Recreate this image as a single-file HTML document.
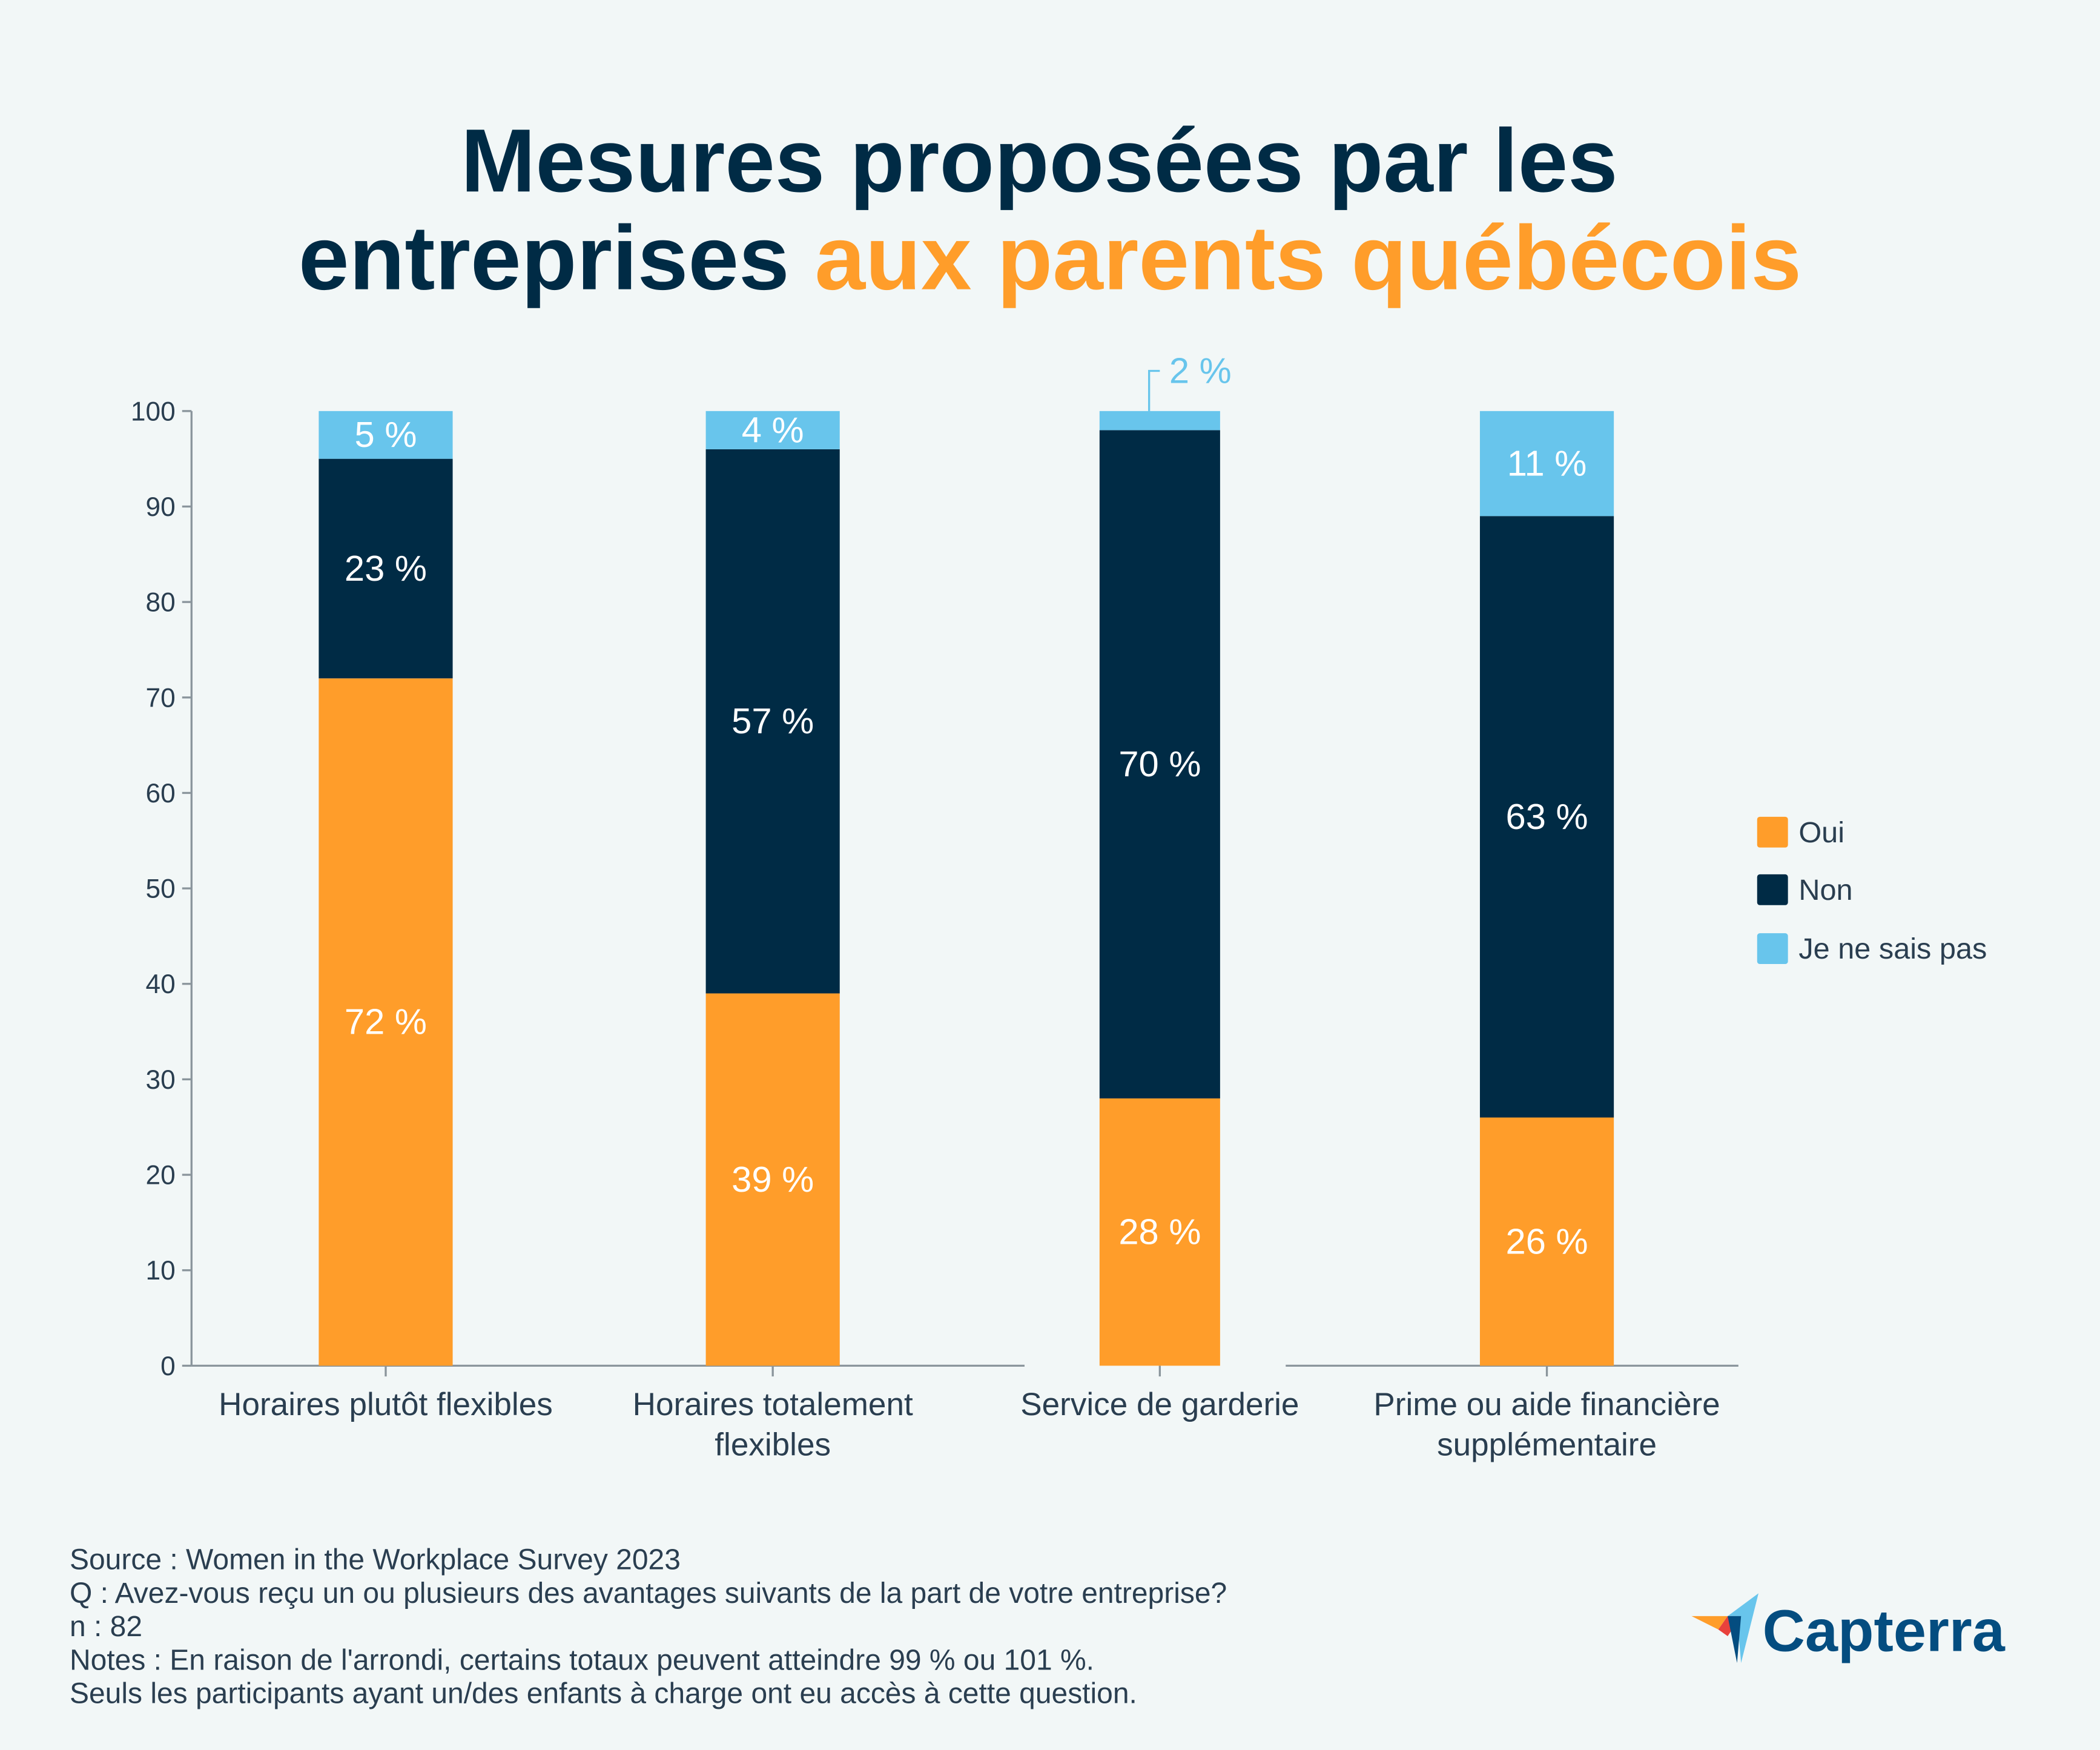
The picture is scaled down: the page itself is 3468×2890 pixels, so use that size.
<!DOCTYPE html>
<html><head><meta charset="utf-8">
<style>
html,body{margin:0;padding:0;background:#f2f7f7;}
svg{display:block;font-family:"Liberation Sans",sans-serif;}
</style></head>
<body>
<svg id="chart" width="3468" height="2890" viewBox="0 0 1568 1307" preserveAspectRatio="none" xmlns="http://www.w3.org/2000/svg">
<rect width="1568" height="1307" fill="#f2f7f7"/>
<text x="776" y="143" text-anchor="middle" font-size="67" font-weight="bold" fill="#002b45">Mesures proposées par les</text>
<text x="784" y="216" text-anchor="middle" font-size="68" font-weight="bold" fill="#002b45">entreprises <tspan fill="#ff9d2a">aux parents québécois</tspan></text>
<g id="axes"></g>
<g id="bars"></g>
<g id="legend">
  <rect x="1312" y="610" width="23" height="23" rx="2" fill="#ff9d2a"/>
  <text x="1343" y="629" font-size="22" fill="#2a3e50">Oui</text>
  <rect x="1312" y="653" width="23" height="23" rx="2" fill="#002b45"/>
  <text x="1343" y="672" font-size="22" fill="#2a3e50">Non</text>
  <rect x="1312" y="697" width="23" height="23" rx="2" fill="#68c5ec"/>
  <text x="1343" y="716" font-size="22" fill="#2a3e50">Je ne sais pas</text>
</g>
<g font-size="21.7" fill="#2a3e50">
  <text x="52" y="1172">Source : Women in the Workplace Survey 2023</text>
  <text x="52" y="1197">Q : Avez-vous reçu un ou plusieurs des avantages suivants de la part de votre entreprise?</text>
  <text x="52" y="1222">n : 82</text>
  <text x="52" y="1247">Notes : En raison de l'arrondi, certains totaux peuvent atteindre 99 % ou 101 %.</text>
  <text x="52" y="1272">Seuls les participants ayant un/des enfants à charge ont eu accès à cette question.</text>
</g>
<g>
  <polygon points="1263,1207 1290,1207 1283,1217" fill="#ff9d2a"/>
  <polygon points="1283,1217 1290,1207 1300,1207 1290,1222" fill="#e8413c"/>
  <polygon points="1290,1207 1313,1190 1300,1242 1297,1207" fill="#68c5ec"/>
  <polygon points="1290,1207 1300,1207 1297,1242" fill="#044d80"/>
  <text x="1316" y="1233" font-size="44" font-weight="bold" fill="#044d80">Capterra</text>
</g>
</svg>
<script>
const categories = [["Horaires plutôt flexibles"],["Horaires totalement","flexibles"],["Service de garderie"],["Prime ou aide financière","supplémentaire"]];
const ouiValues = [72,39,28,26];
const nonValues = [23,57,70,63];
const nspValues = [5,4,2,11];
const yTicks = [0,10,20,30,40,50,60,70,80,90,100];

const NS="http://www.w3.org/2000/svg";
const y0=1020, y100=307;
function yScale(v){return y0-(y0-y100)*v/100;}
const centers=[288,577,866,1155];
const widths=[100,100,90,100];
function xScale(i){return centers[i];}
function mk(tag,attrs,parent){const e=document.createElementNS(NS,tag);for(const k in attrs)e.setAttribute(k,attrs[k]);parent.appendChild(e);return e;}
const axes=document.getElementById('axes'), bars=document.getElementById('bars');

let el=mk('line',{x1:143,y1:y100,x2:143,y2:y0,stroke:'#8a959c','stroke-width':1.5},axes);


el=mk('line',{x1:143,y1:y0,x2:765,y2:y0,stroke:'#8a959c','stroke-width':1.5},axes);


el=mk('line',{x1:960,y1:y0,x2:1298,y2:y0,stroke:'#8a959c','stroke-width':1.5},axes);



yTicks.forEach(t=>{
  const y=yScale(t);
  let l=mk('line',{x1:136,y1:y,x2:143,y2:y,stroke:'#8a959c','stroke-width':1.5},axes);
  
  
  let tx=mk('text',{x:131,y:y+7,'text-anchor':'end','font-size':20,fill:'#2a3e50'},axes);
  tx.textContent=t;
  
  
});

categories.forEach((c,i)=>{
  const cx=xScale(i), w=widths[i];
  let l=mk('line',{x1:cx,y1:y0,x2:cx,y2:y0+8,stroke:'#8a959c','stroke-width':1.5},axes);
  
  
  c.forEach((line,j)=>{
    let tx=mk('text',{x:cx,y:1057+j*30,'text-anchor':'middle','font-size':24,fill:'#2a3e50'},axes);
    tx.textContent=line;
    
    
  });
  const segs=[[ouiValues[i],'#ff9d2a','oui'],[nonValues[i],'#002b45','non'],[nspValues[i],'#68c5ec','je-ne-sais-pas']];
  let base=0;
  segs.forEach(([v,col,nm])=>{
    const top=Math.min(base+v,100);
    let r=mk('rect',{x:cx-w/2,y:yScale(top),width:w,height:yScale(base)-yScale(top),fill:col},bars);
    
    
    const mid=(base+top)/2;
    let tx;
    if(v<3){
      const yTop=yScale(top);
      let p=mk('polyline',{points:`${cx-8},${yTop} ${cx-8},${yTop-30} ${cx},${yTop-30}`,fill:'none',stroke:'#68c5ec','stroke-width':1.5},bars);
      
      
      tx=mk('text',{x:cx+7,y:yTop-21,'font-size':27,fill:'#68c5ec'},bars);
    } else {
      tx=mk('text',{x:cx,y:yScale(mid)+9,'text-anchor':'middle','font-size':27,fill:'#ffffff'},bars);
    }
    tx.textContent=v+' %';
    
    
    base=top;
  });
});
</script>
</body></html>
